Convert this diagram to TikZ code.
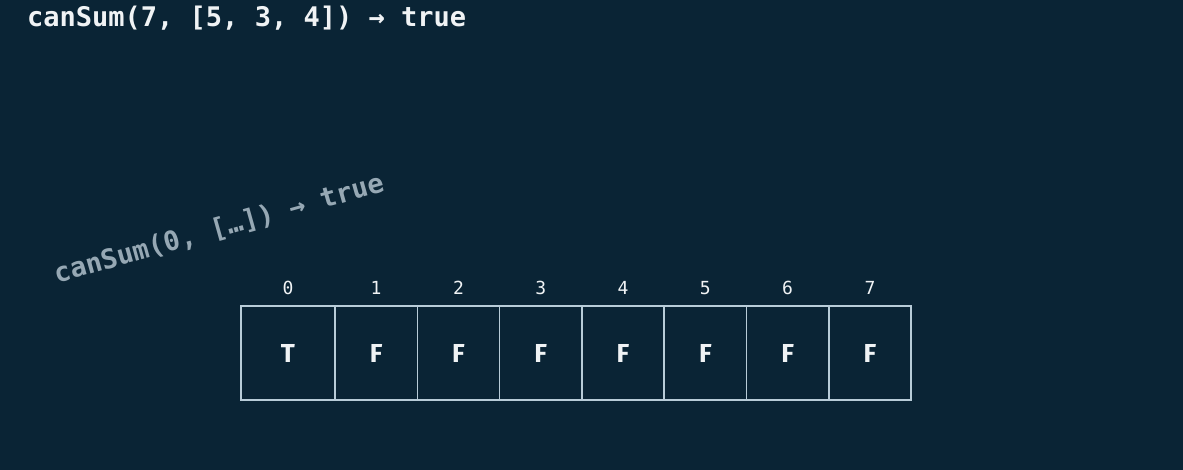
\documentclass[tikz,border=0pt]{standalone}
\usepackage{fontspec}
\setmainfont{Fira Sans}
\setmonofont{DejaVu Sans Mono}
\usetikzlibrary{positioning}
\definecolor{bgnavy}{RGB}{10,36,53}
\definecolor{gridline}{RGB}{184,204,216}
\definecolor{chalk}{RGB}{240,243,245}
\definecolor{fadetext}{RGB}{150,168,180}
\tikzset{>=stealth}
\tikzset{
  cell/.style={draw=gridline, line width=1.6pt, minimum width=82.3pt, minimum height=94pt,
    inner sep=0pt, outer sep=0pt, text=chalk, font=\bfseries\fontsize{26}{26}\selectfont},
  idx/.style={text=chalk, inner sep=0pt, font=\ttfamily\fontsize{18}{18}\selectfont},
  call/.style={inner sep=0pt, font=\ttfamily\bfseries\fontsize{27}{27}\selectfont}
}

\begin{document}
\begin{tikzpicture}[x=1pt, y=-1pt]
    \fill[bgnavy] (0,0) rectangle (1183,470);
    \useasboundingbox (0,0) rectangle (1183,470);
    % top call
    \node[call, text=chalk, anchor=base west] (goal) at (27,27) {canSum(7, [5, 3, 4]) → true};
    % base case, written at a slant
    \node[call, text=fadetext, rotate=15.7] (base) at (219,229) {canSum(0, […]) → true};
    % table
    \node[cell, minimum width=94pt] (c0) at (288,353) {T};
    \foreach \i [remember=\i as \j (initially 0)] in {1,...,7}
        \node[cell, right=0pt of c\j] (c\i) {F};
    \foreach \i in {0,...,7}
        \node[idx, above=11pt of c\i] (n\i) {\i};
\end{tikzpicture}
\end{document}
